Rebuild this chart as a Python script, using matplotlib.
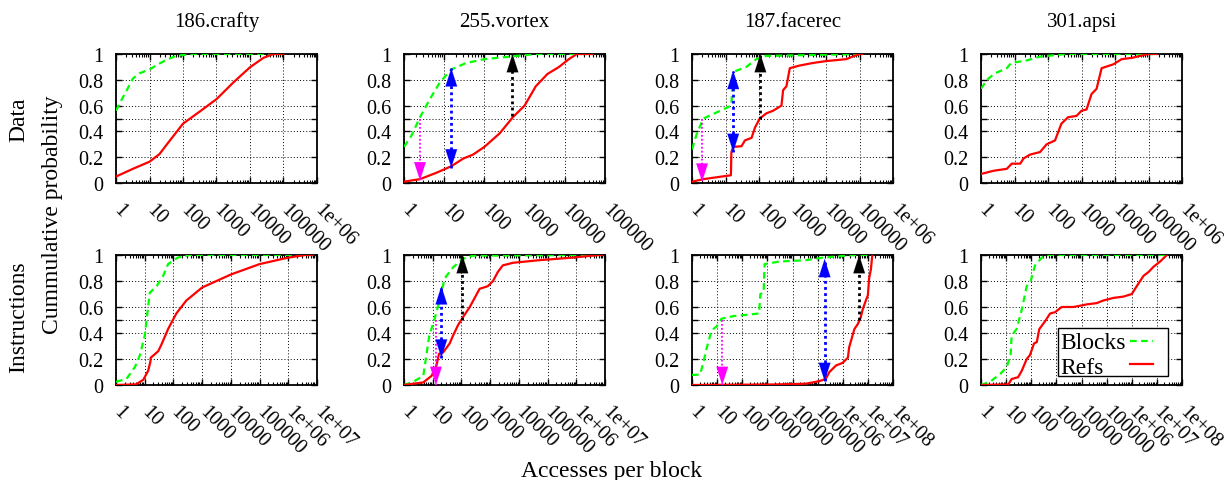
import numpy as np
import matplotlib
matplotlib.use('Agg')
import matplotlib.pyplot as plt
from matplotlib.patches import Rectangle
from matplotlib.ticker import FixedLocator, FuncFormatter, LogLocator, NullFormatter

plt.rcParams['font.family'] = ['Liberation Serif', 'DejaVu Serif']

benchmarks = ['186.crafty', '255.vortex', '187.facerec', '301.apsi']
row_names = ['Data', 'Instructions']
series_names = ['Blocks', 'Refs']

# x-axis upper limits (accesses per block)
data_xmax = [1e6, 1e5, 1e6, 1e6]
instr_xmax = [1e7, 1e7, 1e8, 1e8]

# ---- Data row ----
crafty_data_blocks_x = [1, 1.5, 2.1, 3.2, 5, 10, 18, 32, 55, 85, 200, 1e5]
crafty_data_blocks_y = [0.56, 0.65, 0.72, 0.81, 0.85, 0.88, 0.92, 0.955, 0.98, 0.99, 1.0, 1.0]
crafty_data_refs_x = [1, 3.2, 10, 20, 32, 100, 320, 1000, 3200, 10000, 25000, 50000, 1e5]
crafty_data_refs_y = [0.05, 0.11, 0.165, 0.225, 0.295, 0.46, 0.555, 0.65, 0.78, 0.897, 0.97, 1.0, 1.0]

vortex_data_blocks_x = [1, 1.55, 2.5, 4.4, 7.8, 15, 35, 100, 900, 2000, 50000]
vortex_data_blocks_y = [0.28, 0.37, 0.51, 0.65, 0.78, 0.88, 0.93, 0.96, 0.99, 1.0, 1.0]
vortex_data_refs_x = [1, 2.5, 6.5, 15, 30, 52, 100, 240, 510, 1000, 1900, 3700, 7200, 12600, 20000, 50000]
vortex_data_refs_y = [0.01, 0.03, 0.08, 0.13, 0.19, 0.22, 0.28, 0.385, 0.51, 0.6, 0.75, 0.845, 0.9, 0.96, 1.0, 1.0]

facerec_data_blocks_x = [1, 1.38, 1.95, 2.2, 15, 16.5, 42, 83, 160, 1.2e5]
facerec_data_blocks_y = [0.26, 0.38, 0.47, 0.5, 0.6, 0.86, 0.9, 0.96, 0.985, 1.0]
facerec_data_refs_x = [1, 2.2, 14.5, 15, 17, 30, 38, 60, 76, 105, 166, 263, 468, 525, 660, 830,
                       1600, 4000, 10000, 40000, 98000, 1.2e5]
facerec_data_refs_y = [0.01, 0.03, 0.06, 0.24, 0.28, 0.285, 0.33, 0.35, 0.43, 0.5, 0.54, 0.56, 0.6,
                       0.72, 0.75, 0.89, 0.91, 0.93, 0.945, 0.96, 1.0, 1.0]

apsi_data_blocks_x = [1, 1.5, 2.6, 5.9, 7.9, 23, 58, 350, 1.8e5]
apsi_data_blocks_y = [0.73, 0.8, 0.85, 0.89, 0.93, 0.95, 0.98, 1.0, 1.0]
apsi_data_refs_x = [1, 2.4, 5.9, 8.3, 14.8, 18.6, 29, 58, 91, 162, 251, 398, 708, 1000, 1413,
                    1995, 2818, 3981, 8913, 15850, 31600, 1e5, 1.8e5]
apsi_data_refs_y = [0.07, 0.095, 0.11, 0.15, 0.15, 0.19, 0.22, 0.24, 0.3, 0.33, 0.46, 0.51, 0.52,
                    0.56, 0.57, 0.69, 0.73, 0.89, 0.92, 0.96, 0.97, 1.0, 1.0]

# ---- Instructions row ----
crafty_instr_blocks_x = [1, 2.3, 4.6, 6.8, 10, 15, 26, 44, 65, 141, 363, 7e6]
crafty_instr_blocks_y = [0.025, 0.046, 0.14, 0.23, 0.38, 0.71, 0.76, 0.84, 0.93, 0.98, 1.0, 1.0]
crafty_instr_refs_x = [1, 5, 8.9, 13.2, 15.8, 16.2, 29.5, 38, 65, 126, 282, 1000, 1e4, 1e5, 1e6, 4e6, 7e6]
crafty_instr_refs_y = [0.0, 0.005, 0.04, 0.11, 0.18, 0.21, 0.26, 0.31, 0.43, 0.55, 0.65, 0.75, 0.85,
                       0.93, 0.98, 1.0, 1.0]

vortex_instr_blocks_x = [1, 2.1, 4.7, 7.6, 11.7, 17.8, 26, 51, 112, 250, 8e6]
vortex_instr_blocks_y = [0.0, 0.025, 0.07, 0.38, 0.51, 0.66, 0.82, 0.905, 0.97, 0.995, 1.0]
vortex_instr_refs_x = [1, 4.7, 9.1, 13.5, 16.6, 23, 39, 51, 76, 112, 195, 290, 430, 830, 1260, 1860,
                       2750, 6200, 51000, 7.4e5, 6.3e6, 8e6]
vortex_instr_refs_y = [0.0, 0.02, 0.07, 0.15, 0.24, 0.25, 0.32, 0.38, 0.46, 0.52, 0.6, 0.67, 0.74,
                       0.76, 0.8, 0.87, 0.92, 0.94, 0.96, 0.98, 1.0, 1.0]

facerec_instr_blocks_x = [1, 2.1, 2.8, 3.8, 6, 9.5, 15, 44, 148, 468, 525, 708, 776, 3090, 34700,
                          1.6e5, 3.3e6, 1.5e7]
facerec_instr_blocks_y = [0.077, 0.08, 0.17, 0.28, 0.42, 0.45, 0.51, 0.53, 0.54, 0.55, 0.7, 0.71,
                          0.93, 0.95, 0.96, 0.98, 1.0, 1.0]
facerec_instr_refs_x = [1, 1660, 34700, 1.17e5, 2.1e5, 2.95e5, 5.4e5, 9.8e5, 1.6e6, 1.8e6, 2.9e6,
                        4e6, 5.2e6, 6.2e6, 8.3e6, 1e7, 1.12e7, 1.32e7, 1.5e7]
facerec_instr_refs_y = [0.0, 0.004, 0.01, 0.03, 0.046, 0.1, 0.15, 0.17, 0.21, 0.29, 0.43, 0.47, 0.52,
                        0.58, 0.65, 0.69, 0.82, 0.89, 1.0]

apsi_instr_blocks_x = [1, 2.3, 5.8, 10.5, 15, 16.6, 26, 42, 66, 95, 141, 263, 400, 2.5e7]
apsi_instr_blocks_y = [0.0, 0.025, 0.085, 0.137, 0.23, 0.38, 0.43, 0.58, 0.76, 0.8, 0.92, 0.98, 1.0, 1.0]
apsi_instr_refs_x = [1, 12.3, 16.6, 30, 42, 66, 89, 129, 166, 209, 355, 562, 891, 1620, 4790, 16200,
                     40700, 74000, 186000, 468000, 1e6, 1.58e6, 2.95e6, 4.7e6, 7.4e6, 1.35e7, 2.5e7]
apsi_instr_refs_y = [0.0, 0.005, 0.046, 0.06, 0.11, 0.2, 0.23, 0.32, 0.33, 0.43, 0.49, 0.55, 0.56, 0.6,
                     0.6, 0.62, 0.63, 0.65, 0.67, 0.68, 0.7, 0.76, 0.84, 0.87, 0.91, 0.95, 1.0]

# arrows: (x, y_start, y_end) for [blocks-median, gap, refs-median]
vortex_data_arrows = [(2.5, 0.50, 0.02), (15, 0.12, 0.89), (500, 0.52, 1.0)]
facerec_data_arrows = [(2.0, 0.50, 0.01), (17, 0.24, 0.87), (110, 0.50, 1.0)]
vortex_instr_arrows = [(13, 0.50, 0.0), (20, 0.21, 0.76), (108, 0.50, 1.0)]
facerec_instr_arrows = [(16, 0.50, 0.0), (1.9e5, 0.03, 0.97), (4.5e6, 0.50, 1.0)]

panels = [
    [(crafty_data_blocks_x, crafty_data_blocks_y, crafty_data_refs_x, crafty_data_refs_y, None),
     (vortex_data_blocks_x, vortex_data_blocks_y, vortex_data_refs_x, vortex_data_refs_y, vortex_data_arrows),
     (facerec_data_blocks_x, facerec_data_blocks_y, facerec_data_refs_x, facerec_data_refs_y, facerec_data_arrows),
     (apsi_data_blocks_x, apsi_data_blocks_y, apsi_data_refs_x, apsi_data_refs_y, None)],
    [(crafty_instr_blocks_x, crafty_instr_blocks_y, crafty_instr_refs_x, crafty_instr_refs_y, None),
     (vortex_instr_blocks_x, vortex_instr_blocks_y, vortex_instr_refs_x, vortex_instr_refs_y, vortex_instr_arrows),
     (facerec_instr_blocks_x, facerec_instr_blocks_y, facerec_instr_refs_x, facerec_instr_refs_y, facerec_instr_arrows),
     (apsi_instr_blocks_x, apsi_instr_blocks_y, apsi_instr_refs_x, apsi_instr_refs_y, None)],
]
xmaxes = [data_xmax, instr_xmax]

W, H = 1224, 481
fig = plt.figure(figsize=(W / 100, H / 100), dpi=100)

col_left = [116, 404, 692, 981]
col_w = 201
row_top = [55, 256]
row_h = [129, 130]

green = '#00ff00'
red = '#ff0000'
arrow_colors = ['#ff00ff', '#0000ff', '#000000']
arrow_lw = [1.3, 2.0, 2.0]
green_ls = (0, (3, 2))


def xfmt(v, pos):
    e = int(round(np.log10(v)))
    return str(10 ** e) if e < 6 else '1e+%02d' % e


def draw_head(ax, x, y, direction, color):
    ax.annotate('', xy=(x, y), xytext=(0, -direction * 13), textcoords='offset points',
                arrowprops=dict(arrowstyle='-|>,head_length=1.3,head_width=0.42', mutation_scale=10,
                                color=color, lw=0.1, shrinkA=0, shrinkB=0),
                annotation_clip=False, zorder=6)


axes = []
for r in range(2):
    for c in range(4):
        l = col_left[c] / W
        b = 1 - (row_top[r] + row_h[r]) / H
        ax = fig.add_axes([l, b, col_w / W, row_h[r] / H])
        axes.append(ax)
        bx, by, rx, ry, arrows = panels[r][c]
        xmax = xmaxes[r][c]
        ax.set_xscale('log')
        ax.set_xlim(1, xmax)
        ax.set_ylim(0, 1)
        nd = int(round(np.log10(xmax)))
        ax.xaxis.set_major_locator(FixedLocator([10.0 ** k for k in range(nd + 1)]))
        ax.xaxis.set_major_formatter(FuncFormatter(xfmt))
        ax.xaxis.set_minor_locator(LogLocator(base=10, subs=np.arange(2, 10), numticks=100))
        ax.xaxis.set_minor_formatter(NullFormatter())
        ax.yaxis.set_major_locator(FixedLocator([0, 0.2, 0.4, 0.6, 0.8, 1.0]))
        ax.yaxis.set_major_formatter(FuncFormatter(lambda v, p: '%g' % v))
        ax.yaxis.set_minor_locator(FixedLocator([0.5]))
        ax.tick_params(which='both', direction='in', top=True, right=True, colors='black')
        ax.tick_params(axis='both', which='major', length=4.5, width=1.0, labelsize=14.5)
        ax.tick_params(axis='x', which='minor', length=2.5, width=0.8)
        ax.tick_params(axis='y', which='minor', length=4.5, width=1.0)
        ax.tick_params(axis='x', which='major', pad=17)
        ax.tick_params(axis='y', which='major', pad=9)
        for lab in ax.get_xticklabels():
            lab.set_rotation(-45)
            lab.set_ha('left')
            lab.set_va('center')
            lab.set_rotation_mode('anchor')
        ax.xaxis.grid(True, which='major', color='black', lw=0.7, ls=(0, (1, 2.2)))
        ax.yaxis.grid(True, which='both', color='black', lw=0.7, ls=(0, (1, 2.2)))
        ax.set_axisbelow(True)
        for s in ax.spines.values():
            s.set_linewidth(1.3)
        ax.plot(bx, by, color=green, lw=1.6, ls=green_ls, zorder=4)
        ax.plot(rx, ry, color=red, lw=1.6, ls='-', zorder=4)
        if arrows:
            for k, (x, y0, y1) in enumerate(arrows):
                ax.plot([x, x], [y0, y1], color=arrow_colors[k], lw=arrow_lw[k],
                        ls=(0, (1, 1.2)), zorder=5, solid_capstyle='butt')
                d = 1 if y1 > y0 else -1
                draw_head(ax, x, y1, d, arrow_colors[k])
                if k == 1:
                    draw_head(ax, x, y0, -d, arrow_colors[k])
        if r == 0:
            fig.text((col_left[c] + col_w / 2) / W, 1 - 27 / H, benchmarks[c],
                     ha='center', va='baseline', fontsize=15)

# legend (gnuplot style: text left, sample right) in the last panel
lax = axes[7]
lax.add_patch(Rectangle((0.383, 0.069), 0.547, 0.369, transform=lax.transAxes, facecolor='white',
                        edgecolor='black', lw=1.0, zorder=7))
lax.text(0.393, 0.282, series_names[0], transform=lax.transAxes, fontsize=17, ha='left',
         va='baseline', zorder=8)
lax.text(0.393, 0.092, series_names[1], transform=lax.transAxes, fontsize=17, ha='left',
         va='baseline', zorder=8)
lax.plot([0.741, 0.854], [0.336, 0.336], transform=lax.transAxes, color=green, lw=1.6, ls=green_ls,
         zorder=8, clip_on=False)
lax.plot([0.741, 0.854], [0.162, 0.162], transform=lax.transAxes, color=red, lw=1.6, zorder=8,
         clip_on=False)

fig.text(19 / W, 1 - 120 / H, row_names[0], rotation=90, ha='center', va='center', fontsize=17)
fig.text(19 / W, 1 - 317 / H, row_names[1], rotation=90, ha='center', va='center', fontsize=17)
fig.text(53 / W, 1 - 215 / H, 'Cummulative probability', rotation=90, ha='center', va='center',
         fontsize=17)
fig.text(0.5, 1 - 477 / H, 'Accesses per block', ha='center', va='baseline', fontsize=17)

fig.savefig('out.png', dpi=100)
